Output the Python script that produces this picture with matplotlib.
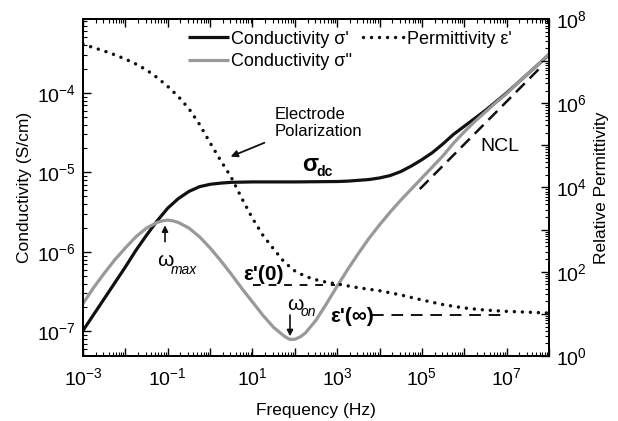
import numpy as np
import matplotlib
matplotlib.use('Agg')
import matplotlib.pyplot as plt
from matplotlib.ticker import LogLocator, FuncFormatter, NullFormatter

# ---------------- data (log10 values) ----------------
sig1_logf = [-3.0, -2.75, -2.5, -2.25, -2.0, -1.75, -1.5, -1.25, -1.0, -0.75, -0.5, -0.25,
             0.0, 0.25, 0.5, 1.0, 2.0, 3.0, 3.25, 3.5, 3.75, 4.0, 4.25, 4.5, 4.75, 5.0,
             5.25, 5.5, 5.75, 6.0, 6.25, 6.5, 6.75, 7.0, 7.25, 7.5, 7.75, 8.0]
sig1_logv = [-6.99, -6.79, -6.59, -6.39, -6.19, -5.98, -5.79, -5.61, -5.45, -5.33, -5.24,
             -5.18, -5.15, -5.135, -5.125, -5.12, -5.12, -5.115, -5.11, -5.10, -5.09,
             -5.07, -5.04, -4.99, -4.92, -4.84, -4.75, -4.64, -4.52, -4.42, -4.32, -4.22,
             -4.11, -4.00, -3.88, -3.76, -3.64, -3.52]

sig2_logf = [-3.0, -2.75, -2.5, -2.25, -2.0, -1.75, -1.5, -1.25, -1.125, -1.0, -0.875,
             -0.75, -0.5, -0.25, 0.0, 0.25, 0.5, 0.75, 1.0, 1.25, 1.5, 1.75, 1.875, 2.0,
             2.125, 2.25, 2.5, 2.75, 3.0, 3.25, 3.5, 3.75, 4.0, 4.25, 4.5, 4.75, 5.0,
             5.25, 5.5, 5.75, 6.0, 6.25, 6.5, 6.75, 7.0, 7.25, 7.5, 7.75, 8.0]
sig2_logv = [-6.65, -6.45, -6.27, -6.10, -5.95, -5.81, -5.70, -5.63, -5.61, -5.60, -5.61,
             -5.63, -5.70, -5.81, -5.95, -6.11, -6.28, -6.46, -6.63, -6.80, -6.95, -7.06,
             -7.10, -7.10, -7.07, -7.02, -6.86, -6.65, -6.43, -6.22, -6.02, -5.83, -5.66,
             -5.50, -5.35, -5.21, -5.07, -4.93, -4.79, -4.63, -4.49, -4.36, -4.24, -4.12,
             -4.01, -3.88, -3.76, -3.64, -3.51]

eps_logf = [-3.0, -2.75, -2.5, -2.25, -2.0, -1.75, -1.5, -1.25, -1.0, -0.75, -0.5, -0.25,
            0.0, 0.25, 0.5, 0.75, 1.0, 1.25, 1.5, 1.75, 2.0, 2.25, 2.5, 2.75, 3.0, 3.5,
            4.0, 4.5, 5.0, 5.5, 6.0, 6.5, 7.0, 7.5, 8.0]
eps_logv = [7.40, 7.32, 7.24, 7.15, 7.05, 6.93, 6.79, 6.61, 6.40, 6.16, 5.87, 5.50, 5.06,
            4.64, 4.24, 3.74, 3.27, 2.86, 2.54, 2.23, 2.02, 1.89, 1.81, 1.75, 1.71, 1.62,
            1.55, 1.45, 1.33, 1.22, 1.14, 1.09, 1.06, 1.04, 1.02]

ncl_logf = [4.95, 7.78]
ncl_logv = [-5.21, -3.69]

eps0_logf = [1.01, 2.94]
eps0_value = 48
epsinf_logf = [3.82, 6.88]
epsinf_value = 9.3

xtick_exps = [-3, -1, 1, 3, 5, 7]

# ---------------- style ----------------
plt.rcParams['font.family'] = ['Liberation Sans', 'DejaVu Sans']
plt.rcParams['mathtext.default'] = 'regular'
plt.rcParams['axes.unicode_minus'] = False

fig = plt.figure(figsize=(6.18, 4.21), dpi=100)
ax = fig.add_axes([83/618, 1-356/421, 466/618, 337/421])
ax2 = ax.twinx()

p = lambda a: np.power(10.0, np.asarray(a, dtype=float))

l1, = ax.plot(p(sig1_logf), p(sig1_logv), color='#111111', lw=2.3, solid_capstyle='butt',
              solid_joinstyle='round', label="Conductivity σ'")
l2, = ax.plot(p(sig2_logf), p(sig2_logv), color='#999999', lw=2.3, solid_capstyle='butt',
              solid_joinstyle='round', label="Conductivity σ''")
ax.plot(p(ncl_logf), p(ncl_logv), color='#111111', lw=1.8, dashes=(5, 2.8))

l3, = ax2.plot(p(eps_logf), p(eps_logv), color='#111111', lw=2.5, dash_capstyle='round',
               linestyle=(0, (0.01, 2.3)), label="Permittivity ε'")
ax2.plot(p(eps0_logf), [eps0_value]*2, color='#111111', lw=1.4, dashes=(4, 4))
ax2.plot(p(epsinf_logf), [epsinf_value]*2, color='#111111', lw=1.4, dashes=(6, 4))

ax.set_xscale('log'); ax.set_yscale('log'); ax2.set_yscale('log')
ax.set_xlim(1e-3, 1e8)
ax.set_ylim(4.9e-8, 8.5e-4)
ax2.set_ylim(1, 1e8)

# ticks
ax.xaxis.set_major_locator(LogLocator(base=10, numticks=20))
ax.xaxis.set_minor_locator(LogLocator(base=10, subs=np.arange(2, 10), numticks=40))
ax.xaxis.set_major_formatter(FuncFormatter(
    lambda v, pos: (r'$10^{%d}$' % round(np.log10(v))) if round(np.log10(v)) in xtick_exps else ''))
ax.xaxis.set_minor_formatter(NullFormatter())
ax.yaxis.set_major_locator(LogLocator(base=10, numticks=20))
ax.yaxis.set_minor_locator(LogLocator(base=10, subs=np.arange(2, 10), numticks=40))
ax.yaxis.set_major_formatter(FuncFormatter(lambda v, pos: r'$10^{%d}$' % round(np.log10(v))))
ax.yaxis.set_minor_formatter(NullFormatter())
ax2.yaxis.set_major_locator(LogLocator(base=10, numticks=20))
ax2.yaxis.set_minor_locator(LogLocator(base=10, subs=np.arange(2, 10), numticks=40))
ax2.yaxis.set_major_formatter(FuncFormatter(
    lambda v, pos: (r'$10^{%d}$' % round(np.log10(v))) if round(np.log10(v)) % 2 == 0 else ''))
ax2.yaxis.set_minor_formatter(NullFormatter())

for a in (ax, ax2):
    a.tick_params(which='major', direction='in', length=6, width=1.0, labelsize=14, pad=5)
    a.tick_params(which='minor', direction='in', length=3, width=0.8)
ax.tick_params(which='both', top=True)
ax.tick_params(axis='x', pad=8)
for a in (ax, ax2):
    for s in a.spines.values():
        s.set_linewidth(1.4)

ax.set_xlabel('Frequency (Hz)', fontsize=12.5, labelpad=10)
ax.set_ylabel('Conductivity (S/cm)', fontsize=12.5, labelpad=4)
ax2.set_ylabel('Relative Permittivity', fontsize=12.5, labelpad=5)

leg = ax.legend(handles=[l1, l2, l3], ncol=2, loc='upper left', bbox_to_anchor=(0.2, 1.0),
                frameon=False, fontsize=13, handlelength=2.3, handletextpad=0.1,
                columnspacing=0.6, labelspacing=0.3, borderaxespad=0.25)

# annotations
ax.text(34, 6.7e-5, 'Electrode\nPolarization', fontsize=12, ha='left', va='top', linespacing=1.2)
ax.annotate('', xy=(2.65, 1.53e-5), xytext=(22, 2.43e-5),
            arrowprops=dict(arrowstyle='-|>', color='#111111', lw=1.3, mutation_scale=10))
ax.text(148, 1.26e-5, 'σ', fontsize=17, fontweight='bold', ha='left', va='center')
ax.text(330, 1.0e-5, 'dc', fontsize=10, fontweight='bold', ha='left', va='center')

ax.text(0.0558, 7.8e-7, 'ω', fontsize=15, ha='left', va='center')
ax.text(0.12, 6.0e-7, 'max', fontsize=10, style='italic', ha='left', va='center')
ax.annotate('', xy=(0.0863, 2.34e-6), xytext=(0.0863, 1.24e-6),
            arrowprops=dict(arrowstyle='-|>', color='#111111', lw=1.2, mutation_scale=9))

ax.text(65.6, 2.19e-7, 'ω', fontsize=15, ha='left', va='center')
ax.text(140, 1.74e-7, 'on', fontsize=10, style='italic', ha='left', va='center')
ax.annotate('', xy=(77, 8.0e-8), xytext=(77, 1.74e-7),
            arrowprops=dict(arrowstyle='-|>', color='#111111', lw=1.2, mutation_scale=9))

ax.text(6.0, 5.2e-7, "ε'(0)", fontsize=15, fontweight='bold', ha='left', va='center')
ax.text(680, 1.55e-7, "ε'(∞)", fontsize=15, fontweight='bold', ha='left', va='center')
ax.text(2.37e6, 2.1e-5, 'NCL', fontsize=14, ha='left', va='center')

fig.savefig('out.png', dpi=100)
